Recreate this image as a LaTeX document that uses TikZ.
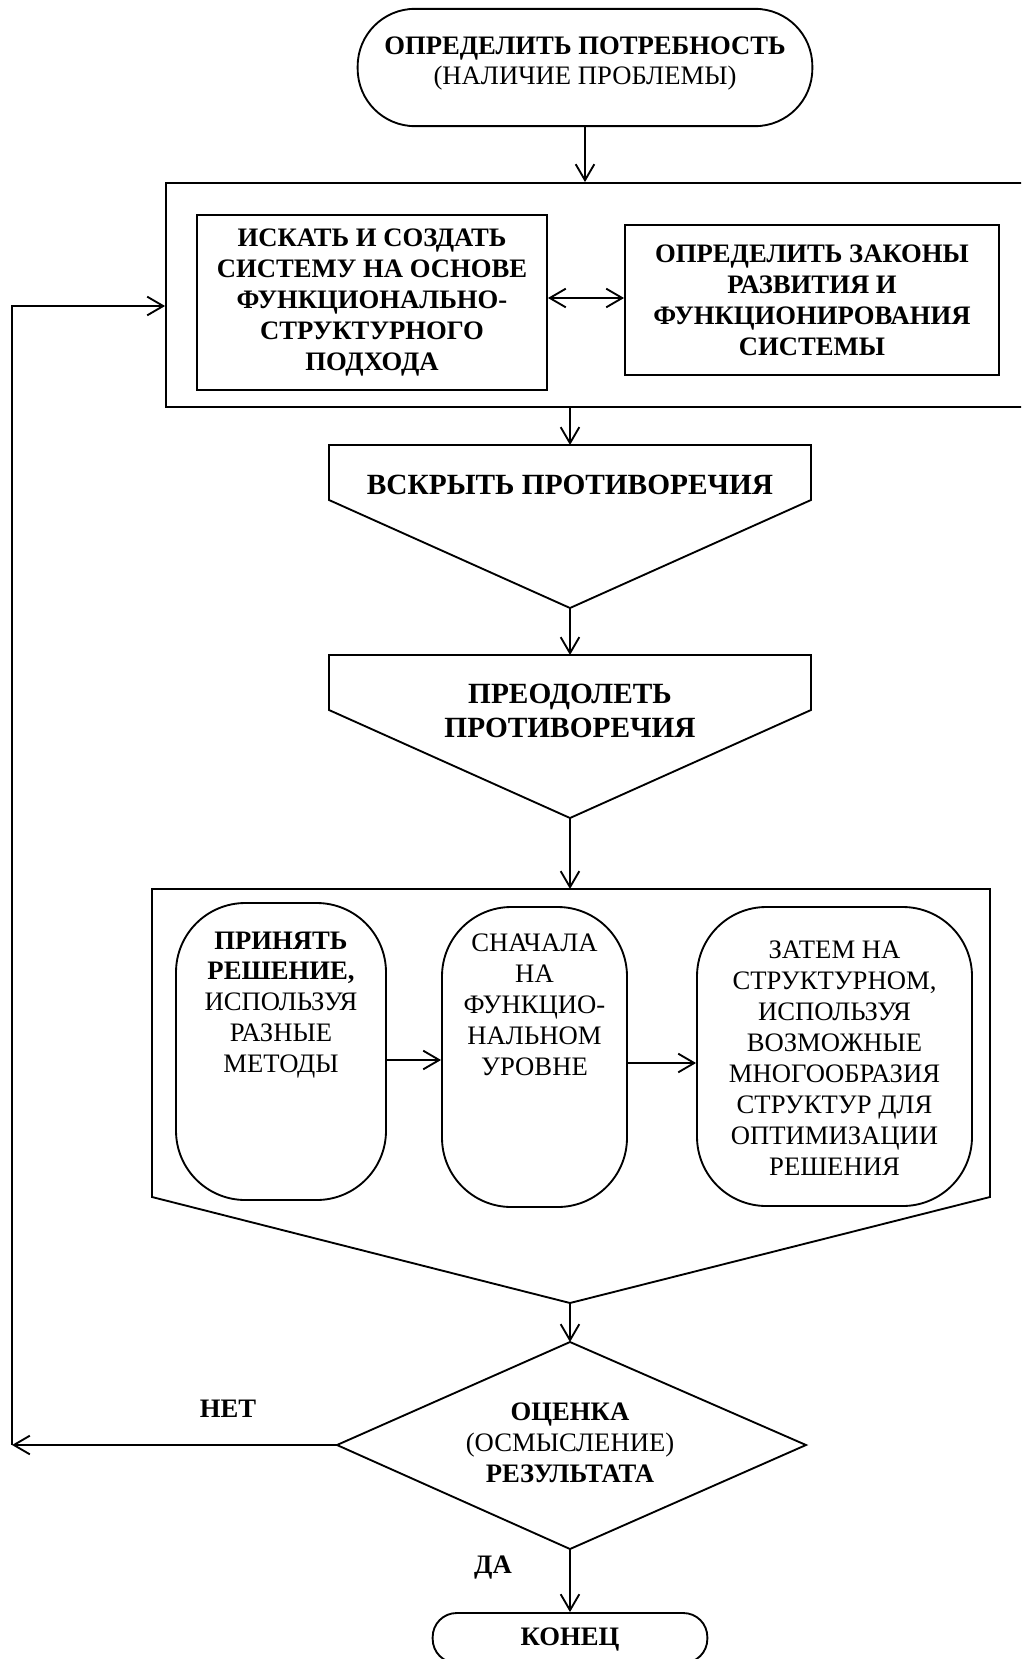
\documentclass[tikz,border=0pt]{standalone}
\usepackage{fontspec}
\setmainfont{Liberation Serif}
\usetikzlibrary{arrows.meta,calc}
\begin{document}
\begin{tikzpicture}[x=0.75pt,y=-0.75pt,
  shp/.style={draw,line width=1.4pt},
  arr/.style={line width=1.4pt,-{Straight Barb[length=12pt,width=14pt]}},
  dbl/.style={line width=1.4pt,{Straight Barb[length=12pt,width=14pt]}-{Straight Barb[length=12pt,width=14pt]}},
  txt/.style={align=center,inner sep=0pt,font=\fontsize{20}{23.2}\selectfont},
  btxt/.style={align=center,inner sep=0pt,font=\fontsize{20}{23.2}\selectfont\bfseries},
  bigtxt/.style={align=center,inner sep=0pt,font=\fontsize{22}{25.5}\selectfont\bfseries}]
\useasboundingbox (0,0) rectangle (1021,1659);
\clip (0,0) rectangle (1021,1659);

% start terminal
\node[shp,rounded corners=43pt,minimum width=341pt,minimum height=88pt] (start) at (585,67.5) {};
\node[txt] (startt) at (585,63.5) {\textbf{ОПРЕДЕЛИТЬ ПОТРЕБНОСТЬ}\\(НАЛИЧИЕ ПРОБЛЕМЫ)};

% box 1
\node[shp,minimum width=648pt,minimum height=168pt] (box1) at (598,295) {};
\node[shp,btxt,minimum width=262.5pt,minimum height=131.25pt] (L1) at (372,302.5)
  {ИСКАТЬ И СОЗДАТЬ\\СИСТЕМУ НА ОСНОВЕ\\ФУНКЦИОНАЛЬНО-\\СТРУКТУРНОГО\\ПОДХОДА};
\node[shp,btxt,minimum width=280.5pt,minimum height=112.5pt] (R1) at (812,300)
  {ОПРЕДЕЛИТЬ ЗАКОНЫ\\РАЗВИТИЯ И\\ФУНКЦИОНИРОВАНИЯ\\СИСТЕМЫ};
\coordinate (dy) at (0,298);
\draw[dbl] (L1.east |- dy) -- (R1.west |- dy);

% V1
\coordinate (v1top) at (570,445);
\coordinate (v1bot) at (570,608);
\draw[shp] (329,445) -- (811,445) -- (811,500) -- (v1bot) -- (329,500) -- cycle;
\node[bigtxt] (v1t) at (570,485) {ВСКРЫТЬ ПРОТИВОРЕЧИЯ};

% V2
\coordinate (v2top) at (570,655);
\coordinate (v2bot) at (570,818);
\draw[shp] (329,655) -- (811,655) -- (811,710) -- (v2bot) -- (329,710) -- cycle;
\node[bigtxt] (v2t) at (570,711) {ПРЕОДОЛЕТЬ\\ПРОТИВОРЕЧИЯ};

% box 2
\coordinate (b2top) at (570,889);
\coordinate (b2bot) at (570,1303);
\draw[shp] (152,889) -- (990,889) -- (990,1197) -- (b2bot) -- (152,1197) -- cycle;
\node[shp,rounded corners=52pt,minimum width=157.5pt,minimum height=222.75pt] (A) at (281,1051.5) {};
\node[shp,rounded corners=52pt,minimum width=138.75pt,minimum height=225pt] (B) at (534.5,1057) {};
\node[shp,rounded corners=52pt,minimum width=206.25pt,minimum height=224.25pt] (C) at (834.5,1056.5) {};
\node[txt] (At) at (281,1005) {\textbf{ПРИНЯТЬ}\\\textbf{РЕШЕНИЕ,}\\ИСПОЛЬЗУЯ\\РАЗНЫЕ\\МЕТОДЫ};
\node[txt] (Bt) at (534.5,1005) {СНАЧАЛА\\НА\\ФУНКЦИО-\\НАЛЬНОМ\\УРОВНЕ};
\node[txt] (Ct) at (834.5,1058) {ЗАТЕМ НА\\СТРУКТУРНОМ,\\ИСПОЛЬЗУЯ\\ВОЗМОЖНЫЕ\\МНОГООБРАЗИЯ\\СТРУКТУР ДЛЯ\\ОПТИМИЗАЦИИ\\РЕШЕНИЯ};
\coordinate (ab) at (0,1060);
\coordinate (bc) at (0,1063);
\draw[arr] (A.east |- ab) -- (B.west |- ab);
\draw[arr] (B.east |- bc) -- (C.west |- bc);

% diamond
\coordinate (dN) at (570,1342);
\coordinate (dE) at (806,1445);
\coordinate (dS) at (570,1549);
\coordinate (dW) at (337,1445);
\draw[shp] (dN) -- (dE) -- (dS) -- (dW) -- cycle;
\node[txt] (dt) at (570,1443) {\textbf{ОЦЕНКА}\\(ОСМЫСЛЕНИЕ)\\\textbf{РЕЗУЛЬТАТА}};

% end terminal
\node[shp,rounded corners=18pt,minimum width=206pt,minimum height=37.5pt] (end) at (570,1638) {};
\node[btxt] (endt) at (570,1639) {КОНЕЦ};

% labels
\node[btxt] (net) at (228,1409) {НЕТ};
\node[btxt] (da) at (493,1568) {ДА};

% connectors
\draw[arr] (start.south) -- (start.south |- box1.north);
\draw[arr] (box1.south -| v1top) -- (v1top);
\draw[arr] (v1bot) -- (v2top);
\draw[arr] (v2bot) -- (b2top);
\draw[arr] (b2bot) -- (dN);
\draw[arr] (dS) -- (end.north);
\coordinate (fbl) at (12,1445);
\coordinate (fbt) at (12,306);
\draw[arr] (dW) -- (fbl);
\draw[arr] (fbl) -- (fbt) -- (fbt -| box1.west);
\end{tikzpicture}
\end{document}
